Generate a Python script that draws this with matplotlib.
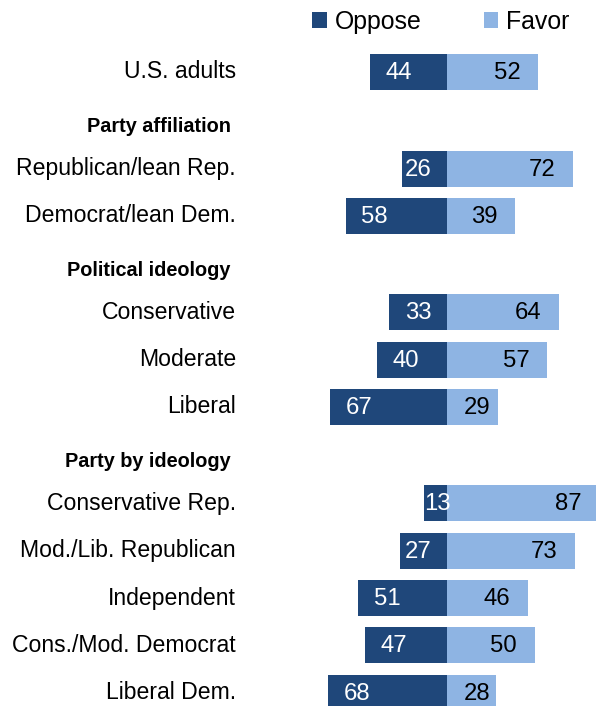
import matplotlib
matplotlib.use("Agg")
import matplotlib.pyplot as plt
from matplotlib.patches import Patch

plt.rcParams["font.family"] = ["Liberation Sans", "DejaVu Sans"]

# Survey groups, in display order (None marks a section heading)
sections = [
    (None, ["U.S. adults"]),
    ("Party affiliation", ["Republican/lean Rep.", "Democrat/lean Dem."]),
    ("Political ideology", ["Conservative", "Moderate", "Liberal"]),
    ("Party by ideology", ["Conservative Rep.", "Mod./Lib. Republican",
                           "Independent", "Cons./Mod. Democrat", "Liberal Dem."]),
]
oppose = [44, 26, 58, 33, 40, 67, 13, 27, 51, 47, 68]
favor = [52, 72, 39, 64, 57, 29, 87, 73, 46, 50, 28]

DARK = "#1f477a"
LIGHT = "#8eb4e3"

# Vertical layout (pixel-like units, top = 0)
ROW_STEP, TO_HEADER, HEADER_TO_ROW, FIRST_ROW = 47.3, 54.5, 42.0, 72.0
BAR_H = 36

rows, headers = [], []
y = FIRST_ROW
prev = None
for heading, cats in sections:
    if heading is not None:
        y = y + TO_HEADER
        headers.append((heading, y))
        prev = "header"
    for c in cats:
        if prev == "header":
            y += HEADER_TO_ROW
        elif prev == "row":
            y += ROW_STEP
        rows.append((c, y))
        prev = "row"

fig = plt.figure(figsize=(5.96, 7.06), dpi=100)
ax = fig.add_axes([0, 0, 1, 1])
ax.set_xlim(-255.4, 85.1)
ax.set_ylim(706, 0)
ax.axis("off")

ys = [r[1] for r in rows]
ax.barh(ys, [-v for v in oppose], height=BAR_H, color=DARK, edgecolor="none")
ax.barh(ys, favor, height=BAR_H, color=LIGHT, edgecolor="none")

NUM_FS = 17.2
LAB_FS = 16.6
HEAD_FS = 14.3

for (cat, yy), o, f in zip(rows, oppose, favor):
    ax.text(-120.5, yy, cat, ha="right", va="center", fontsize=LAB_FS, color="black")
    xo = max(-o, min(-o + 9, -24))
    ax.text(xo, yy + 1, str(o), ha="left", va="center", fontsize=NUM_FS, color="white")
    xf = max(f - 10, 24.5)
    ax.text(xf, yy + 1, str(f), ha="right", va="center", fontsize=NUM_FS, color="black")

for heading, yy in headers:
    ax.text(-123.5, yy, heading, ha="right", va="center", fontsize=HEAD_FS,
            fontweight="bold", color="black")

handles = [Patch(facecolor=DARK, edgecolor="none"), Patch(facecolor=LIGHT, edgecolor="none")]
ax.legend(handles, ["Oppose", "Favor"], loc="center", bbox_to_anchor=(0.74, 0.969),
          ncol=2, frameon=False, fontsize=17.9, handlelength=0.58, handleheight=0.58,
          handletextpad=0.33, columnspacing=2.5, borderpad=0, borderaxespad=0)

fig.savefig("out.png", dpi=100)
